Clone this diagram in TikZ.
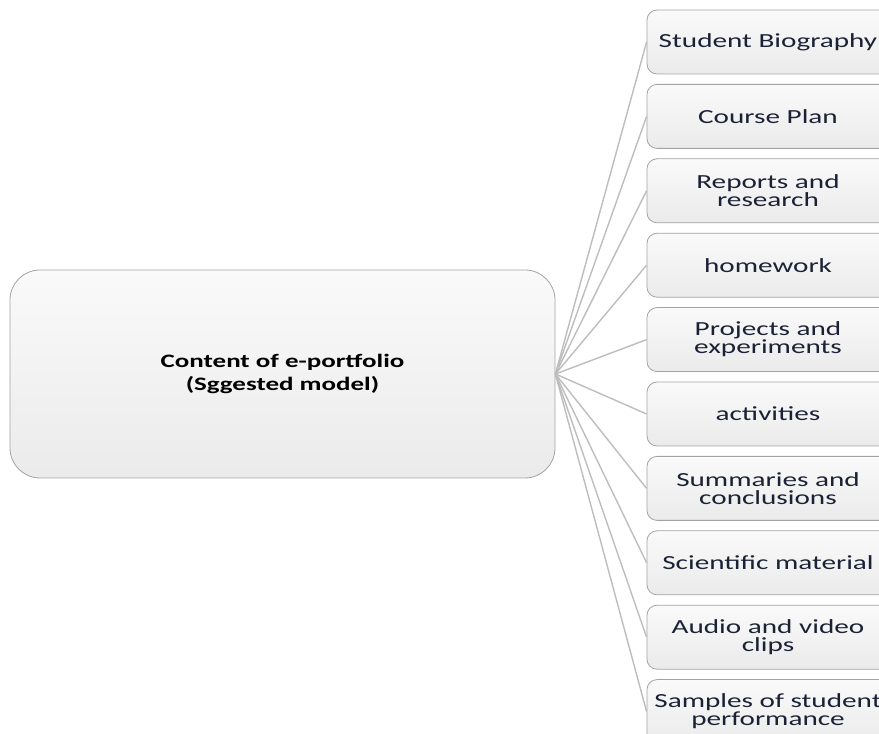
\documentclass[tikz,border=0pt]{standalone}
\usepackage{fontspec}
\setmainfont[FakeStretch=1.42]{Carlito}
\newfontfamily\itemfont[FakeStretch=1.46]{Carlito}
\usetikzlibrary{positioning}
\definecolor{edgegray}{HTML}{A3A3A3}
\definecolor{linkgray}{HTML}{BDBDBD}
\definecolor{txtnavy}{HTML}{1C2236}

\begin{document}
\begin{tikzpicture}[x=1pt, y=1pt,
    topic/.style={rectangle, draw=edgegray, top color=white!96!gray, bottom color=gray!16, rounded corners=30pt, minimum width=545pt, minimum height=208pt, align=center, font=\fontsize{19}{23}\selectfont\bfseries, line width=0.8pt},
    item/.style={rectangle, draw=edgegray, top color=white!96!gray, bottom color=gray!16, rounded corners=10pt, minimum width=242pt, minimum height=64pt, inner sep=0pt, align=center, text=txtnavy, font=\itemfont\fontsize{20}{18}\selectfont, line width=0.8pt},
    link/.style={draw=linkgray, line width=1.4pt},
  ]
    \useasboundingbox (0,0) rectangle (879,734);
    \clip (0,0) rectangle (879,734);

    \node[topic] (main) at (282.5,360) {Content of e-portfolio\\(Sggested model)};

    \node[item] (bio) at (768,692) {Student Biography};
    \node[item, below=9.6pt of bio] (plan) {Course Plan};
    \node[item, below=9.6pt of plan] (reports) {Reports and\\research};
    \node[item, below=9.6pt of reports] (homework) {homework};
    \node[item, below=9.6pt of homework] (projects) {Projects and\\experiments};
    \node[item, below=9.6pt of projects] (activities) {activities};
    \node[item, below=9.6pt of activities] (summaries) {Summaries and\\conclusions};
    \node[item, below=9.6pt of summaries] (material) {Scientific material};
    \node[item, below=9.6pt of material] (clips) {Audio and video\\clips};
    \node[item, below=9.6pt of clips] (samples) {Samples of student\\performance};

    % fan of links from the main box
    \draw[link] (main.east) -- (bio.west);
    \draw[link] (main.east) -- (plan.west);
    \draw[link] (main.east) -- (reports.west);
    \draw[link] (main.east) -- (homework.west);
    \draw[link] (main.east) -- (projects.west);
    \draw[link] (main.east) -- (activities.west);
    \draw[link] (main.east) -- (summaries.west);
    \draw[link] (main.east) -- (material.west);
    \draw[link] (main.east) -- (clips.west);
    \draw[link] (main.east) -- (samples.west);
  \end{tikzpicture}
\end{document}
